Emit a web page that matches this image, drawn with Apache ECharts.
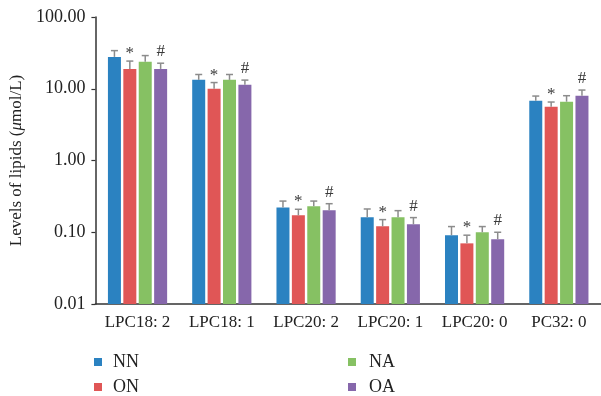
<!DOCTYPE html>
<html>
<head>
<meta charset="utf-8">
<script src="https://cdn.jsdelivr.net/npm/echarts@6/dist/echarts.min.js"></script>
<style>
html,body{margin:0;padding:0;background:#fff;}
#chart{width:601px;height:396px;}
</style>
</head>
<body>
<div id="chart"></div>
<script>
// ---- data ----
var categories = ['LPC18: 2', 'LPC18: 1', 'LPC20: 2', 'LPC20: 1', 'LPC20: 0', 'PC32: 0'];
var seriesNames = ['NN', 'ON', 'NA', 'OA'];
var NN = [27.8, 13.3, 0.222, 0.162, 0.091, 6.81];
var ON = [18.9, 10.0, 0.172, 0.121, 0.070, 5.62];
var NA = [23.7, 13.3, 0.230, 0.162, 0.100, 6.60];
var OA = [18.9, 11.4, 0.202, 0.129, 0.080, 8.00];
// upper ends of the error bars
var NN_errTop = [34.0, 15.8, 0.272, 0.211, 0.120, 7.91];
var ON_errTop = [24.3, 12.2, 0.209, 0.150, 0.091, 6.53];
var NA_errTop = [29.0, 15.8, 0.272, 0.200, 0.120, 8.00];
var OA_errTop = [22.7, 13.2, 0.250, 0.160, 0.100, 9.59];
// significance marks
var ON_marks = ['*', '*', '*', '*', '*', '*'];
var OA_marks = ['#', '#', '#', '#', '#', '#'];
var yMin = 0.01, yMax = 100;

var values = [NN, ON, NA, OA];
var errTops = [NN_errTop, ON_errTop, NA_errTop, OA_errTop];
var marks = [null, ON_marks, null, OA_marks];
var colors = ['#2b82c1', '#e05656', '#86c163', '#8667ab'];

var FONT = '"Liberation Serif", "Times New Roman", serif';
var BAR_W = 13, BAR_GAP = 2.4;

var chart = echarts.init(document.getElementById('chart'), null, {renderer: 'canvas'});

var series = [];
seriesNames.forEach(function (name, s) {
  var data = categories.map(function (c, i) {
    return [i, values[s][i], errTops[s][i], marks[s] ? marks[s][i] : ''];
  });
  series.push({
    type: 'custom',
    name: name,
    data: data,
    encode: {x: 0, y: [1, 2]},
    itemStyle: {color: colors[s]},
    silent: true,
    animation: false,
    renderItem: function (params, api) {
      var i = api.value(0);
      var base = api.coord([i, yMin]);
      var val = api.coord([i, api.value(1)]);
      var top = api.coord([i, api.value(2)]);
      var off = (s - 1.5) * (BAR_W + BAR_GAP);
      var x = base[0] + off;
      var cap = 3.5;
      var children = [
        {type: 'rect', shape: {x: x - BAR_W / 2, y: val[1], width: BAR_W, height: base[1] - val[1]}, style: {fill: colors[s]}},
        {type: 'line', shape: {x1: x, y1: val[1], x2: x, y2: top[1]}, style: {stroke: '#8c8c8c', lineWidth: 1.5}},
        {type: 'line', shape: {x1: x - cap, y1: top[1], x2: x + cap, y2: top[1]}, style: {stroke: '#8c8c8c', lineWidth: 1.5}}
      ];
      var m = data[params.dataIndex][3];
      if (m) {
        children.push({
          type: 'text',
          style: {
            text: m, x: x, y: top[1] - (m === '*' ? -1 : 3),
            align: 'center', verticalAlign: 'bottom',
            font: '17px ' + FONT, fill: '#3a3a3a'
          }
        });
      }
      return {type: 'group', children: children};
    }
  });
});

function legendItem(name, left, top, gap) {
  return {
    data: [name], left: left, top: top, padding: 0,
    icon: 'rect', itemWidth: 8, itemHeight: 8,
    textStyle: {fontFamily: FONT, fontSize: 18, color: '#222', padding: [0, 0, 0, gap]},
    selectedMode: false
  };
}

chart.setOption({
  backgroundColor: '#fff',
  animation: false,
  color: colors,
  grid: {left: 92, top: 17, width: 512, height: 287, containLabel: false},
  legend: [
    legendItem('NN', 94, 353, 6),
    legendItem('ON', 94, 378, 6),
    legendItem('NA', 348, 353, 8),
    legendItem('OA', 348, 378, 8)
  ],
  xAxis: {
    type: 'category',
    data: categories,
    axisLine: {lineStyle: {color: '#333', width: 1.5}},
    axisTick: {show: false},
    axisLabel: {fontFamily: FONT, fontSize: 17, color: '#222', margin: 10, interval: 0, hideOverlap: false}
  },
  yAxis: {
    type: 'log',
    logBase: 10,
    min: yMin,
    max: yMax,
    name: 'Levels of lipids ({i|\u03bc}mol/L)',
    nameLocation: 'middle',
    nameGap: 68,
    nameTextStyle: {fontFamily: FONT, fontSize: 17, color: '#222',
      rich: {i: {fontFamily: FONT, fontSize: 17, fontStyle: 'italic', color: '#222'}}},
    axisLine: {show: true, lineStyle: {color: '#333', width: 1.5}},
    axisTick: {show: true, length: 4, lineStyle: {color: '#333', width: 1.2}},
    splitLine: {show: false},
    axisLabel: {
      fontFamily: FONT, fontSize: 18, color: '#222', margin: 10,
      formatter: function (v) { return Number(v).toFixed(2); }
    }
  },
  series: series
});
</script>
</body>
</html>
